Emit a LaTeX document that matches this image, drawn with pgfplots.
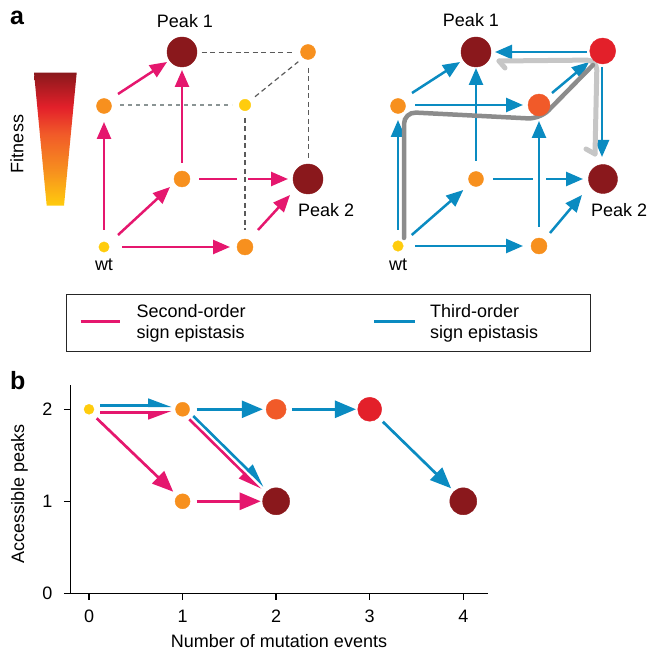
\documentclass[border=0pt]{standalone}
\usepackage{pgfplots}
\pgfplotsset{compat=1.18}
\usepackage{fontspec}
\setmainfont{Liberation Sans}
\usetikzlibrary{arrows.meta}
\definecolor{cpink}{HTML}{E5176E}
\definecolor{cblue}{HTML}{0A8BC1}
\definecolor{cyel}{HTML}{FFCC0D}
\definecolor{corg}{HTML}{F7901E}
\definecolor{corr}{HTML}{F15A29}
\definecolor{cred}{HTML}{E3202A}
\definecolor{cdark}{HTML}{8A181C}
\definecolor{gdark}{HTML}{8C8C8C}
\definecolor{glight}{HTML}{C6C6C6}
\definecolor{dashc}{HTML}{5A5A5A}
\definecolor{dashl}{HTML}{8A9494}
\pgfdeclareverticalshading{fitness}{100bp}{color(0bp)=(cyel); color(25bp)=(cyel); color(38bp)=(corg); color(52bp)=(corr); color(62bp)=(cred); color(75bp)=(cdark); color(100bp)=(cdark)}
\newcommand{\fs}{\fontsize{18}{21}\selectfont}
\newcommand{\nd}[4]{\addplot[only marks, mark=*, mark size=#3pt, color=#4, mark options={draw=#4, fill=#4}] coordinates {(#1,#2)};}
\tikzset{
 pa/.style={line width=2.5pt, -{Triangle[length=17pt,width=14pt]}},
 pbb/.style={line width=2.7pt, -{Triangle[length=21pt,width=17pt]}},
 hl/.style={line width=2.6pt, -{Triangle[length=20pt,width=14pt,left]}},
 hr/.style={line width=2.6pt, -{Triangle[length=20pt,width=14pt,right]}},
 dsh/.style={dashc, line width=1.2pt, dash pattern=on 5pt off 3.5pt},
}
\begin{document}
\begin{tikzpicture}
\useasboundingbox (0,0) rectangle (649pt,656pt);
\begin{axis}[at={(0,0)}, anchor=south west, scale only axis, width=649pt, height=656pt,
 xmin=0, xmax=649, ymin=0, ymax=656, y dir=reverse, hide axis, clip=false]
% fitness bar
\addplot[draw=none, shade, shading=fitness] coordinates {(34,72.7) (76.7,72.7) (64,205.7) (46.7,205.7)};
% legend box
\addplot[black!85, line width=1pt, line join=miter] coordinates {(66.9,294.3) (590,294.3) (590,351.7) (66.9,351.7) (66.9,294.3)};
\addplot[cpink, line width=3pt] coordinates {(80.7,321) (120,321)};
\addplot[cblue, line width=3pt] coordinates {(374,321) (414.7,321)};
% left cube dashed
\addplot[dsh] coordinates {(201.7,52.5) (294,52.5)};
\addplot[dsh, dashl, line width=1.3pt, dash pattern=on 4pt off 4pt] coordinates {(120,105) (232,105)};
\addplot[dsh] coordinates {(255,96.7) (298.3,61.7)};
\addplot[dsh] coordinates {(245,118) (245,230)};
\addplot[dsh] coordinates {(308.3,68) (308.3,158)};
% left cube pink arrows
\addplot[cpink, pa] coordinates {(104,230) (104,122)};
\addplot[cpink, pa] coordinates {(118,235) (170,187)};
\addplot[cpink, pa] coordinates {(122,247) (230,247)};
\addplot[cpink, pa] coordinates {(118,94) (167,62)};
\addplot[cpink, pa] coordinates {(182,163) (182,70)};
\addplot[cpink, line width=2.5pt] coordinates {(199,179) (237,179)};
\addplot[cpink, pa] coordinates {(248,179) (288,179)};
\addplot[cpink, pa] coordinates {(258,230) (290,195)};
% right cube blue arrows
\addplot[cblue, pa] coordinates {(398,230) (398,120)};
\addplot[cblue, pa] coordinates {(411.7,235) (463.3,190)};
\addplot[cblue, pa] coordinates {(415,246) (523,246)};
\addplot[cblue, pa] coordinates {(412,93) (460,62)};
\addplot[cblue, pa] coordinates {(415,105) (523,105)};
\addplot[cblue, pa] coordinates {(476,161) (476,68)};
\addplot[cblue, line width=2.5pt] coordinates {(493,179) (533,179)};
\addplot[cblue, pa] coordinates {(546,179) (583,179)};
\addplot[cblue, pa] coordinates {(539,227) (539,121)};
\addplot[cblue, pa] coordinates {(550,233) (582,195)};
\addplot[cblue, pa] coordinates {(552,93) (589,62)};
\addplot[cblue, pa] coordinates {(587,52) (495,52)};
\addplot[cblue, pa] coordinates {(602,67) (602,157)};
% gray paths
\addplot[glight, line width=5pt, rounded corners=10pt, line cap=round] coordinates {(499,61) (597,60) (595,154)};
\addplot[glight, line width=5pt, line cap=round] coordinates {(499,61) (505,68)};
\addplot[glight, line width=5pt, line cap=round] coordinates {(595,154) (586,149)};
\addplot[gdark, line width=4.5pt, rounded corners=12pt, line cap=round] coordinates {(404,238) (404,112) (540,119) (593,65)};
% left cube nodes
\nd{182}{52}{15}{cdark}
\nd{308}{52}{7.5}{corg}
\nd{104}{106}{7.5}{corg}
\nd{245}{105}{5.7}{cyel}
\nd{182}{179}{8}{corg}
\nd{308}{179}{15}{cdark}
\nd{104}{247}{5.2}{cyel}
\nd{245}{247}{8}{corg}
% right cube nodes
\nd{476}{52}{15}{cdark}
\nd{602.7}{51}{13}{cred}
\nd{398}{106}{7.5}{corg}
\nd{539}{105}{11}{corr}
\nd{476}{179}{7.5}{corg}
\nd{603}{179}{14.5}{cdark}
\nd{398}{246}{5.3}{cyel}
\nd{539}{246}{8}{corg}
% texts
\node[font=\fs, anchor=base, inner sep=0pt] at (axis cs:185,28) {Peak 1};
\node[font=\fs, anchor=base, inner sep=0pt] at (axis cs:471,27) {Peak 1};
\node[font=\fs, anchor=base west, inner sep=0pt] at (axis cs:298,217) {Peak 2};
\node[font=\fs, anchor=base west, inner sep=0pt] at (axis cs:591,217) {Peak 2};
\node[font=\fs, anchor=base, inner sep=0pt] at (axis cs:104,270) {wt};
\node[font=\fs, anchor=base, inner sep=0pt] at (axis cs:398,270) {wt};
\node[font=\fs, rotate=90, anchor=base, inner sep=0pt] at (axis cs:23.5,144) {Fitness};
\node[font=\fontsize{25}{28}\selectfont\bfseries, anchor=base west, inner sep=0pt] at (axis cs:10,25) {a};
\node[font=\fontsize{25}{28}\selectfont\bfseries, anchor=base west, inner sep=0pt] at (axis cs:10,389) {b};
\node[font=\fs, anchor=base west, inner sep=0pt] at (axis cs:136.4,317.7) {Second-order};
\node[font=\fs, anchor=base west, inner sep=0pt] at (axis cs:136.4,338.3) {sign epistasis};
\node[font=\fs, anchor=base west, inner sep=0pt] at (axis cs:430,317.7) {Third-order};
\node[font=\fs, anchor=base west, inner sep=0pt] at (axis cs:430,338.3) {sign epistasis};
\end{axis}
\begin{axis}[at={(70.4pt,62.7pt)}, anchor=south west, scale only axis, width=417.2pt, height=208.3pt,
 xmin=-0.199, xmax=4.26, ymin=0, ymax=2.264,
 axis x line=bottom, axis y line=left, axis line style={-, line width=1.3pt},
 tick style={line width=1.3pt, black}, tick align=outside, major tick length=6.5pt,
 xtick={0,1,2,3,4}, ytick={0,1,2},
 /pgf/number format/assume math mode=true, tick label style={font=\fs},
 xticklabel style={yshift=-7pt}, yticklabel style={xshift=-8pt},
 xlabel={Number of mutation events}, ylabel={Accessible peaks}, label style={font=\fs},
 xlabel style={at={(axis description cs:0.5,-0.258)}, anchor=base},
 ylabel style={at={(axis description cs:-0.111,0.476)}, anchor=base},
 clip=false]
\addplot[cblue, hl] coordinates {(0.118,2.039) (0.885,2.039)};
\addplot[cpink, hr] coordinates {(0.118,1.967) (0.885,1.967)};
\addplot[cpink, pbb] coordinates {(0.082,1.902) (0.90,1.104)};
\addplot[cpink, pbb] coordinates {(1.15,1) (1.835,1)};
\addplot[cblue, pbb] coordinates {(1.15,2) (1.857,2)};
\addplot[cblue, pbb] coordinates {(2.167,2) (2.853,2)};
\addplot[cblue, pbb] coordinates {(3.14,1.865) (3.87,1.141)};
\addplot[cblue, hl] coordinates {(1.114,1.927) (1.875,1.164)};
\addplot[cpink, hr] coordinates {(1.072,1.891) (1.836,1.124)};
\nd{0}{2}{5}{cyel}
\nd{1}{2}{7}{corg}
\nd{1}{1}{7.5}{corg}
\nd{2}{2}{10}{corr}
\nd{3}{2}{12}{cred}
\nd{2}{1}{13.5}{cdark}
\nd{4}{1}{13.5}{cdark}
\end{axis}
\end{tikzpicture}
\end{document}
